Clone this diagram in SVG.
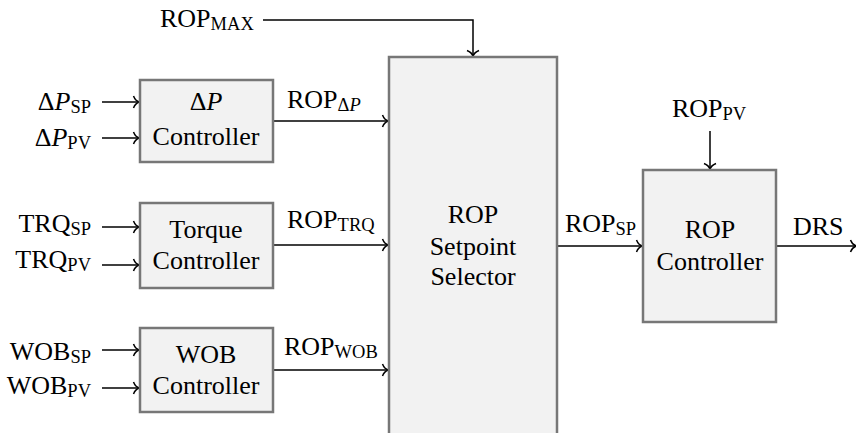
<svg xmlns="http://www.w3.org/2000/svg" width="856" height="433" viewBox="0 0 856 433" font-family="'Liberation Serif', 'Times New Roman', serif">
<style>
.box{fill:#f2f2f2;stroke:#777;stroke-width:2.5}
text, tspan{font-family:'Liberation Serif','Times New Roman',serif}
text{font-size:26px;fill:#000}
.c{text-anchor:middle}
.e{text-anchor:end}
.s{font-size:18.5px}
.i{font-style:italic}
.w{fill:none;stroke:#000;stroke-width:1.5}
</style>
<defs>
<marker id="ar" markerUnits="userSpaceOnUse" viewBox="-7 -7 9 14" markerWidth="9" markerHeight="14" refX="0" refY="0" orient="auto" overflow="visible">
<path d="M -5.5 -6 C -4.2 -2.7 -1.7 -0.6 0.3 0 C -1.7 0.6 -4.2 2.7 -5.5 6" fill="none" stroke="#000" stroke-width="1.5"/>
</marker>
</defs>
<rect width="856" height="433" fill="#fff"/>

<g id="connectors">
<polyline class="w" points="263,20 473,20 473,56" marker-end="url(#ar)"/>
<line class="w" x1="102" y1="102" x2="139" y2="102" marker-end="url(#ar)"/>
<line class="w" x1="102" y1="138" x2="139" y2="138" marker-end="url(#ar)"/>
<line class="w" x1="102" y1="227" x2="139" y2="227" marker-end="url(#ar)"/>
<line class="w" x1="102" y1="265" x2="139" y2="265" marker-end="url(#ar)"/>
<line class="w" x1="102" y1="350" x2="139" y2="350" marker-end="url(#ar)"/>
<line class="w" x1="102" y1="388" x2="139" y2="388" marker-end="url(#ar)"/>
<line class="w" x1="274" y1="121" x2="388" y2="121" marker-end="url(#ar)"/>
<line class="w" x1="274" y1="245" x2="388" y2="245" marker-end="url(#ar)"/>
<line class="w" x1="274" y1="370" x2="388" y2="370" marker-end="url(#ar)"/>
<line class="w" x1="558" y1="246" x2="642" y2="246" marker-end="url(#ar)"/>
<line class="w" x1="710" y1="131" x2="710" y2="169" marker-end="url(#ar)"/>
<line class="w" x1="777" y1="246" x2="856" y2="246" marker-end="url(#ar)"/>
<text x="160" y="27">ROP<tspan class="s" dy="3">MAX</tspan></text>
<text class="e" x="91" y="110">Δ<tspan class="i">P</tspan><tspan class="s" dy="3">SP</tspan></text>
<text class="e" x="91" y="146">Δ<tspan class="i">P</tspan><tspan class="s" dy="3">PV</tspan></text>
<text class="e" x="91" y="232">TRQ<tspan class="s" dy="3">SP</tspan></text>
<text class="e" x="91" y="268">TRQ<tspan class="s" dy="3">PV</tspan></text>
<text class="e" x="91" y="360">WOB<tspan class="s" dy="3">SP</tspan></text>
<text class="e" x="91" y="394">WOB<tspan class="s" dy="3">PV</tspan></text>
<text x="287" y="108">ROP<tspan class="s" dy="3">Δ</tspan><tspan class="s i">P</tspan></text>
<text x="287" y="228">ROP<tspan class="s" dy="3">TRQ</tspan></text>
<text x="284" y="355">ROP<tspan class="s" dy="3">WOB</tspan></text>
<text x="565" y="232">ROP<tspan class="s" dy="3">SP</tspan></text>
<text x="672" y="117">ROP<tspan class="s" dy="3">PV</tspan></text>
<text x="793" y="235"><tspan>DRS</tspan></text>
</g>

<g id="dp-controller">
<rect class="box" x="140" y="80" width="133" height="82"/>
<text class="c" x="206" y="110">Δ<tspan class="i">P</tspan></text>
<text class="c" x="206" y="145"><tspan>Controller</tspan></text>
</g>

<g id="torque-controller">
<rect class="box" x="140" y="203" width="133" height="85"/>
<text class="c" x="206" y="238"><tspan>Torque</tspan></text>
<text class="c" x="206" y="269"><tspan>Controller</tspan></text>
</g>

<g id="wob-controller">
<rect class="box" x="140" y="328" width="133" height="84"/>
<text class="c" x="206" y="363"><tspan>WOB</tspan></text>
<text class="c" x="206" y="394"><tspan>Controller</tspan></text>
</g>

<g id="setpoint-selector">
<rect class="box" x="389" y="57" width="168" height="400"/>
<text class="c" x="473" y="223"><tspan>ROP</tspan></text>
<text class="c" x="473" y="255"><tspan>Setpoint</tspan></text>
<text class="c" x="473" y="285"><tspan>Selector</tspan></text>
</g>

<g id="rop-controller">
<rect class="box" x="643" y="170" width="133" height="152"/>
<text class="c" x="710" y="238"><tspan>ROP</tspan></text>
<text class="c" x="710" y="270"><tspan>Controller</tspan></text>
</g>
</svg>
